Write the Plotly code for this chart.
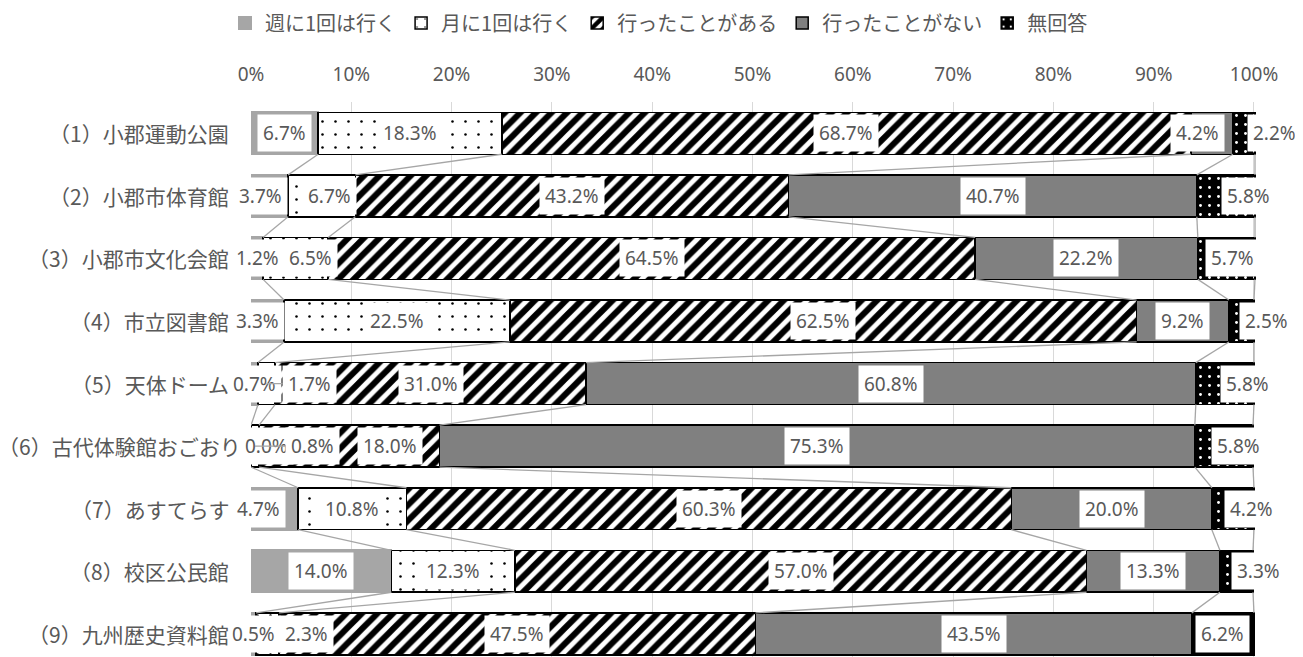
import plotly.graph_objects as go

# ---------------- data ----------------
categories = ["（1）小郡運動公園", "（2）小郡市体育館", "（3）小郡市文化会館", "（4）市立図書館",
              "（5）天体ドーム", "（6）古代体験館おごおり", "（7）あすてらす", "（8）校区公民館",
              "（9）九州歴史資料館"]
series_names = ["週に1回は行く", "月に1回は行く", "行ったことがある", "行ったことがない", "無回答"]
weekly = [6.7, 3.7, 1.2, 3.3, 0.7, 0.0, 4.7, 14.0, 0.5]
monthly = [18.3, 6.7, 6.5, 22.5, 1.7, 0.8, 10.8, 12.3, 2.3]
visited = [68.7, 43.2, 64.5, 62.5, 31.0, 18.0, 60.3, 57.0, 47.5]
never = [4.2, 40.7, 22.2, 9.2, 60.8, 75.3, 20.0, 13.3, 43.5]
no_answer = [2.2, 5.8, 5.7, 2.5, 5.8, 5.8, 4.2, 3.3, 6.2]
x_ticks = [0, 10, 20, 30, 40, 50, 60, 70, 80, 90, 100]

series_values = [weekly, monthly, visited, never, no_answer]

# ---------------- styles ----------------
TEXT = "#595959"
CJK = "Noto Sans CJK JP"
NUM = "Noto Sans, Noto Sans CJK JP"
BAR_W = 0.67

styles = [
    dict(color="#A6A6A6", line=dict(color="#A6A6A6", width=2)),
    dict(color="white", line=dict(color="black", width=1.5),
         pattern=dict(shape=".", fgcolor="black", bgcolor="white", fgopacity=1,
                      size=13, solidity=0.03, fillmode="overlay")),
    dict(color="white", line=dict(color="black", width=1.5),
         pattern=dict(shape="/", fgcolor="black", bgcolor="white", fgopacity=1,
                      size=11, solidity=0.55, fillmode="overlay")),
    dict(color="#808080", line=dict(color="black", width=1.5)),
    dict(color="black", line=dict(color="black", width=1.5),
         pattern=dict(shape=".", fgcolor="white", bgcolor="black", fgopacity=1,
                      size=9, solidity=0.08, fillmode="overlay")),
]

# label nudges (pixels) for small segments, as in the reference
label_shift = {
    (0, 3): -14, (0, 4): 31,
    (1, 0): -9, (1, 1): 8, (1, 4): 23,
    (2, 1): 15, (2, 4): 6,
    (3, 0): -10, (3, 4): 25,
    (4, 4): 23,
    (5, 0): 15, (5, 2): 41, (5, 4): 15,
    (6, 0): -16, (6, 4): 19,
    (7, 4): 22,
    (8, 1): 39,
}
# labels moved away with a leader line (pixels)
leader_shift = {(4, 1): 43, (5, 1): 57}
# category label gap from the plot edge (px); the long one sits closer
cat_gap = {5: 8}

rows = list(range(len(categories)))
fig = go.Figure()

for name, vals, st in zip(series_names, series_values, styles):
    fig.add_trace(go.Bar(
        name=name, x=vals, y=rows, orientation="h", width=BAR_W,
        marker=st, hoverinfo="skip",
    ))

# cumulative boundaries
cum = []
run = [0.0] * len(rows)
for vals in series_values:
    run = [r + v for r, v in zip(run, vals)]
    cum.append(run[:])

# series lines
for k in range(len(series_values)):
    xs, ys = [], []
    for i in range(len(rows) - 1):
        xs += [cum[k][i], cum[k][i + 1], None]
        ys += [i + BAR_W / 2, i + 1 - BAR_W / 2, None]
    fig.add_trace(go.Scatter(x=xs, y=ys, mode="lines", showlegend=False, hoverinfo="skip",
                             line=dict(color="#A6A6A6", width=1.3)))

annotations = []
# data labels
for k, vals in enumerate(series_values):
    for i, v in enumerate(vals):
        start = cum[k][i] - v
        xpos = start + v / 2
        ann = dict(x=xpos, y=i, xref="x", yref="y", text=f"{v:.1f}%",
                   bgcolor="white", borderpad=5, font=dict(family=NUM, size=19, color=TEXT))
        if (i, k) in leader_shift:
            ann.update(showarrow=True, ax=leader_shift[(i, k)], ay=0, axref="pixel", ayref="pixel",
                       arrowhead=0, arrowwidth=1.2, arrowcolor="#A6A6A6", standoff=0)
        else:
            ann.update(showarrow=False, xshift=label_shift.get((i, k), 0))
        annotations.append(ann)
# category labels (drawn last, on top)
for i, c in enumerate(categories):
    annotations.append(dict(
        x=0, y=i, xref="paper", yref="y", text=c, showarrow=False, xanchor="right",
        xshift=-cat_gap.get(i, 20), font=dict(family=CJK, size=21, color=TEXT),
    ))

fig.update_layout(
    width=1303, height=657,
    margin=dict(l=243, r=55, t=94, b=8),
    barmode="stack",
    plot_bgcolor="white", paper_bgcolor="white",
    annotations=annotations,
    showlegend=True,
    legend=dict(orientation="h", xref="container", yref="container",
                x=0.4996, xanchor="center", y=1 - 15 / 657, yanchor="middle",
                font=dict(family=CJK, size=20, color=TEXT), itemwidth=30,
                traceorder="normal"),
    xaxis=dict(side="top", range=[0, 100.2], tickvals=x_ticks,
               ticktext=[f"{t}%" for t in x_ticks], showgrid=True, gridcolor="#D9D9D9",
               gridwidth=1, zeroline=False, showline=False, ticks="",
               tickfont=dict(family=NUM, size=19, color=TEXT), ticklabelstandoff=16,
               automargin=False, fixedrange=True),
    yaxis=dict(range=[8.37, -0.5], tickvals=rows, showticklabels=False, showgrid=False,
               zeroline=False, showline=False, ticks="",
               automargin=False, fixedrange=True),
)

fig.write_html("out.html")
